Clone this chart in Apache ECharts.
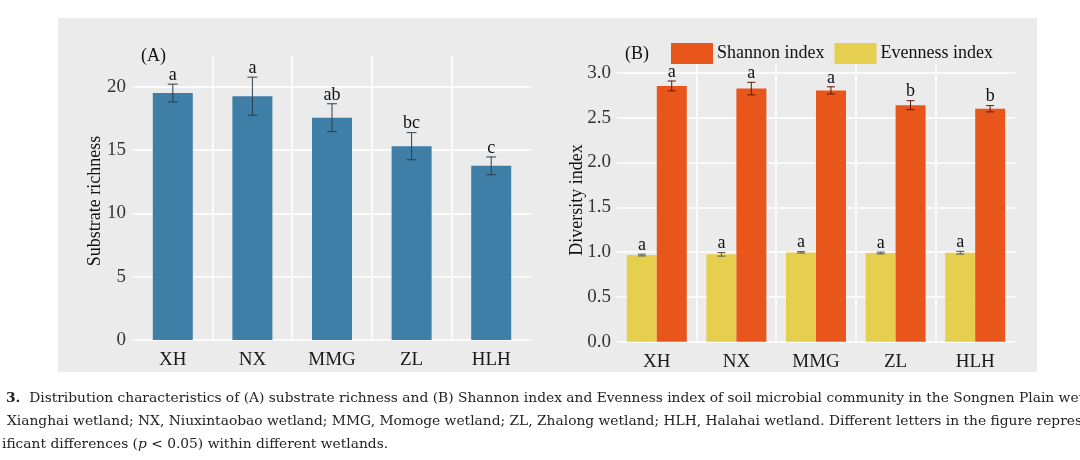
<!DOCTYPE html>
<html>
<head>
<meta charset="utf-8">
<script src="https://cdn.jsdelivr.net/npm/echarts@6/dist/echarts.min.js"></script>
<style>html,body{margin:0;padding:0;background:#fff}#c{width:1080px;height:460px}</style>
</head>
<body>
<div id="c"></div>
<script>
// ---- data ----
var categories = ['XH', 'NX', 'MMG', 'ZL', 'HLH'];
var richness = [19.5, 19.25, 17.55, 15.3, 13.75];
var richnessErr = [0.7, 1.5, 1.1, 1.07, 0.7];
var richnessLetters = ['a', 'a', 'ab', 'bc', 'c'];
var shannon = [2.855, 2.825, 2.805, 2.64, 2.60];
var shannonErr = [0.055, 0.07, 0.04, 0.05, 0.035];
var shannonLetters = ['a', 'a', 'a', 'b', 'b'];
var evenness = [0.967, 0.975, 0.997, 0.99, 0.993];
var evennessErr = [0.01, 0.02, 0.008, 0.01, 0.015];
var evennessLetters = ['a', 'a', 'a', 'a', 'a'];
var yTicksA = [0, 5, 10, 15, 20];
var yTicksB = [0.0, 0.5, 1.0, 1.5, 2.0, 2.5, 3.0];

var FONT = 'Liberation Serif';
var CAPFONT = 'DejaVu Serif';
var CAPSIZE = 13.8;
var BG = '#ebebeb';

function errSeries(name, xi, yi, vals, errs, letters, offFrac, capHalf, color) {
  var data = vals.map(function (v, i) { return [i, v, errs[i]]; });
  return {
    type: 'custom', name: name, xAxisIndex: xi, yAxisIndex: yi, z: 5, silent: true,
    data: data,
    renderItem: function (params, api) {
      var i = api.value(0), m = api.value(1), e = api.value(2);
      var band = api.size([1, 0])[0];
      var c0 = api.coord([i, m]);
      var x = c0[0] + band * offFrac;
      var yt = api.coord([i, m + e])[1];
      var yb = api.coord([i, m - e])[1];
      var st = { stroke: color, lineWidth: 1 };
      return {
        type: 'group', children: [
          { type: 'line', shape: { x1: x, y1: yt, x2: x, y2: yb }, style: st },
          { type: 'line', shape: { x1: x - capHalf, y1: yt, x2: x + capHalf, y2: yt }, style: st },
          { type: 'line', shape: { x1: x - capHalf, y1: yb, x2: x + capHalf, y2: yb }, style: st },
          { type: 'text', x: x, y: yt, style: { text: letters[i], x: 0, y: 0, align: 'center', verticalAlign: 'bottom', font: '18px "' + FONT + '"', fill: '#111' } }
        ]
      };
    }
  };
}

var chart = echarts.init(document.getElementById('c'), null, { renderer: 'canvas' });

var catAxis = function (gi) {
  return {
    type: 'category', gridIndex: gi, data: categories,
    axisLine: { show: false }, axisTick: { show: false },
    axisLabel: { fontFamily: FONT, fontSize: 19, color: '#1a1a1a', margin: 11 },
    splitLine: { show: true, showMinLine: false, showMaxLine: false, lineStyle: { color: '#ffffff', width: 1.5 } }
  };
};

var option = {
  backgroundColor: '#ffffff',
  animation: false,
  grid: [
    { left: 133, top: 55, width: 398, height: 285 },
    { left: 617, top: 55, width: 398, height: 286.7 }
  ],
  xAxis: [catAxis(0), catAxis(1)],
  yAxis: [
    {
      type: 'value', gridIndex: 0, min: 0, max: 22.5, interval: 5,
      axisLine: { show: false }, axisTick: { show: false },
      axisLabel: { fontFamily: FONT, fontSize: 19, color: '#333', margin: 7, showMaxLabel: false,
        formatter: function (v) { return yTicksA.indexOf(v) >= 0 ? String(v) : ''; } },
      splitLine: { showMaxLine: false, lineStyle: { color: '#ffffff', width: 1.5 } }
    },
    {
      type: 'value', gridIndex: 1, min: 0, max: 3.2, interval: 0.5,
      axisLine: { show: false }, axisTick: { show: false },
      axisLabel: { fontFamily: FONT, fontSize: 19, color: '#333', margin: 6, showMaxLabel: false,
        formatter: function (v) {
          for (var k = 0; k < yTicksB.length; k++) { if (Math.abs(yTicksB[k] - v) < 1e-9) return yTicksB[k].toFixed(1); }
          return '';
        } },
      splitLine: { showMaxLine: false, lineStyle: { color: '#ffffff', width: 1.5 } }
    }
  ],
  legend: {
    data: ['Shannon index', 'Evenness index'],
    left: 671, top: 43, itemWidth: 42, itemHeight: 21, itemGap: 10, padding: 0,
    icon: 'rect', backgroundColor: BG,
    textStyle: { fontFamily: FONT, fontSize: 18, color: '#111', padding: [0, 0, 0, -1] },
    selectedMode: false
  },
  series: [
    { type: 'bar', name: 'Substrate richness', xAxisIndex: 0, yAxisIndex: 0, data: richness, barWidth: 40,
      itemStyle: { color: '#3f7ea6' } },
    { type: 'bar', name: 'Evenness index', xAxisIndex: 1, yAxisIndex: 1, data: evenness, barWidth: 30, barGap: '0%',
      itemStyle: { color: '#e6cf4f' } },
    { type: 'bar', name: 'Shannon index', xAxisIndex: 1, yAxisIndex: 1, data: shannon, barWidth: 30, barGap: '0%',
      itemStyle: { color: '#e8561b' } },
    errSeries('errA', 0, 0, richness, richnessErr, richnessLetters, 0, 5, '#2b3f4d'),
    errSeries('errE', 1, 1, evenness, evennessErr, evennessLetters, -0.1875, 4, '#555'),
    errSeries('errS', 1, 1, shannon, shannonErr, shannonLetters, 0.1875, 4, '#5a1a05')
  ],
  graphic: { elements: [
    { type: 'rect', z: -10, shape: { x: 58, y: 18, width: 979, height: 354 }, style: { fill: BG } },
    { type: 'text', x: 95, y: 201, rotation: Math.PI / 2,
      style: { text: 'Substrate richness', font: '18px "' + FONT + '"', fill: '#111', align: 'center', verticalAlign: 'middle' } },
    { type: 'text', x: 577, y: 200, rotation: Math.PI / 2,
      style: { text: 'Diversity index', font: '18px "' + FONT + '"', fill: '#111', align: 'center', verticalAlign: 'middle' } },
    { type: 'text', x: 141, y: 56, style: { text: '(A)', font: '18px "' + FONT + '"', fill: '#111', verticalAlign: 'middle' } },
    { type: 'text', x: 625, y: 54, style: { text: '(B)', font: '18px "' + FONT + '"', fill: '#111', verticalAlign: 'middle' } },
    { type: 'text', x: 6, y: 398, style: {
      text: '{b|3.}  Distribution characteristics of (A) substrate richness and (B) Shannon index and Evenness index of soil microbial community in the Songnen Plain wetlands.',
      font: CAPSIZE + 'px "' + CAPFONT + '"', fill: '#222', verticalAlign: 'middle',
      rich: { b: { fontWeight: 'bold', fontFamily: CAPFONT, fontSize: CAPSIZE, fill: '#222' } } } },
    { type: 'text', x: 7, y: 421, style: {
      text: 'Xianghai wetland; NX, Niuxintaobao wetland; MMG, Momoge wetland; ZL, Zhalong wetland; HLH, Halahai wetland. Different letters in the figure represent',
      font: CAPSIZE + 'px "' + CAPFONT + '"', fill: '#222', verticalAlign: 'middle' } },
    { type: 'text', x: 2, y: 444, style: {
      text: 'ificant differences ({i|p} < 0.05) within different wetlands.',
      font: CAPSIZE + 'px "' + CAPFONT + '"', fill: '#222', verticalAlign: 'middle',
      rich: { i: { fontStyle: 'italic', fontFamily: CAPFONT, fontSize: CAPSIZE } } } }
  ] }
};
chart.setOption(option);
</script>
</body>
</html>
